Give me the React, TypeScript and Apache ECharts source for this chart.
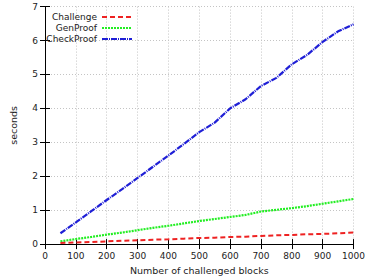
import React, { useEffect, useRef } from "react";
import * as echarts from "echarts";

const blocks = [50, 100, 150, 200, 250, 300, 350, 400, 450, 500, 550, 600, 650, 700, 750, 800, 850, 900, 950, 1000];
const challenge = [0.03, 0.05, 0.06, 0.08, 0.10, 0.11, 0.13, 0.14, 0.16, 0.18, 0.19, 0.21, 0.22, 0.24, 0.26, 0.27, 0.29, 0.30, 0.32, 0.34];
const genProof = [0.08, 0.15, 0.21, 0.28, 0.34, 0.41, 0.48, 0.54, 0.61, 0.68, 0.74, 0.80, 0.86, 0.96, 1.01, 1.06, 1.12, 1.19, 1.26, 1.33];
const checkProof = [0.32, 0.64, 0.97, 1.30, 1.62, 1.95, 2.28, 2.61, 2.95, 3.30, 3.58, 4.00, 4.27, 4.66, 4.90, 5.30, 5.58, 5.96, 6.27, 6.48];
const seriesNames = ["Challenge", "GenProof", "CheckProof"];
const xLabel = "Number of challenged blocks";
const yLabel = "seconds";

const FONT = "DejaVu Sans";

export default function App() {
  const ref = useRef<HTMLDivElement>(null);
  useEffect(() => {
    if (!ref.current) return;
    const chart = echarts.init(ref.current, null, { renderer: "svg" });
    const pairs = (ys: number[]) => blocks.map((x, i) => [x, ys[i]]);
    const axisLine = { show: true, lineStyle: { color: "#000", width: 1 } };
    const tick = { show: true, inside: true, length: 5, lineStyle: { color: "#000" } };
    const legendTops = [12.5, 23.5, 34.5];
    const legends = seriesNames.map((name, i) => ({
      orient: "vertical",
      right: 235,
      top: legendTops[i],
      align: "right",
      padding: 0,
      itemWidth: 30,
      itemHeight: 8,
      itemGap: 0,
      data: [name],
      itemStyle: { opacity: 0, color: "transparent", borderWidth: 0 },
      textStyle: { fontSize: 9, fontFamily: FONT, color: "#222" },
    }));
    chart.setOption({
      animation: false,
      backgroundColor: "#fff",
      textStyle: { fontFamily: FONT },
      grid: { left: 33, right: 8.5, top: 6.6, bottom: 34, show: false },
      legend: legends,
      xAxis: [
        {
          type: "value",
          min: 0,
          max: 1000,
          interval: 100,
          name: xLabel,
          nameLocation: "middle",
          nameGap: 20,
          nameTextStyle: { fontSize: 9.5, color: "#222", fontFamily: FONT },
          axisLine,
          axisTick: tick,
          axisLabel: { fontSize: 9, color: "#222", margin: 7, fontFamily: FONT, formatter: (v: number) => String(v) },
          splitLine: { show: true, lineStyle: { color: "#c4c4c4", type: [1, 2], width: 1 } },
        },
        {
          type: "value",
          position: "top",
          min: 0,
          max: 1000,
          interval: 100,
          axisLine,
          axisTick: tick,
          axisLabel: { show: false },
          splitLine: { show: false },
        },
      ],
      yAxis: [
        {
          type: "value",
          min: 0,
          max: 7,
          interval: 1,
          name: yLabel,
          nameLocation: "middle",
          nameGap: 27,
          nameTextStyle: { fontSize: 9.5, color: "#222", fontFamily: FONT },
          axisLine,
          axisTick: tick,
          axisLabel: { fontSize: 9, color: "#222", margin: 7, fontFamily: FONT },
          splitLine: { show: true, lineStyle: { color: "#c4c4c4", type: [1, 2], width: 1 } },
        },
        {
          type: "value",
          position: "right",
          min: 0,
          max: 7,
          interval: 1,
          axisLine,
          axisTick: tick,
          axisLabel: { show: false },
          splitLine: { show: false },
        },
      ],
      series: [
        {
          name: seriesNames[0],
          type: "line",
          data: pairs(challenge),
          symbol: "none",
          z: 4,
          itemStyle: { color: "#ee2222" },
          lineStyle: { color: "#ee2222", width: 2, type: [5, 3] },
        },
        {
          name: seriesNames[1],
          type: "line",
          data: pairs(genProof),
          symbol: "none",
          z: 3,
          itemStyle: { color: "#22ee22" },
          lineStyle: { color: "#22ee22", width: 2.2, type: [2, 1] },
        },
        {
          name: seriesNames[2],
          type: "line",
          data: pairs(checkProof),
          symbol: "none",
          z: 2,
          itemStyle: { color: "#1f1fd6" },
          lineStyle: { color: "#1f1fd6", width: 2.2, type: [6, 1, 1, 1] },
        },
      ],
    });
    return () => chart.dispose();
  }, []);
  return <div ref={ref} style={{ width: 368, height: 280, position: "absolute", left: 0, top: 0 }} />;
}
